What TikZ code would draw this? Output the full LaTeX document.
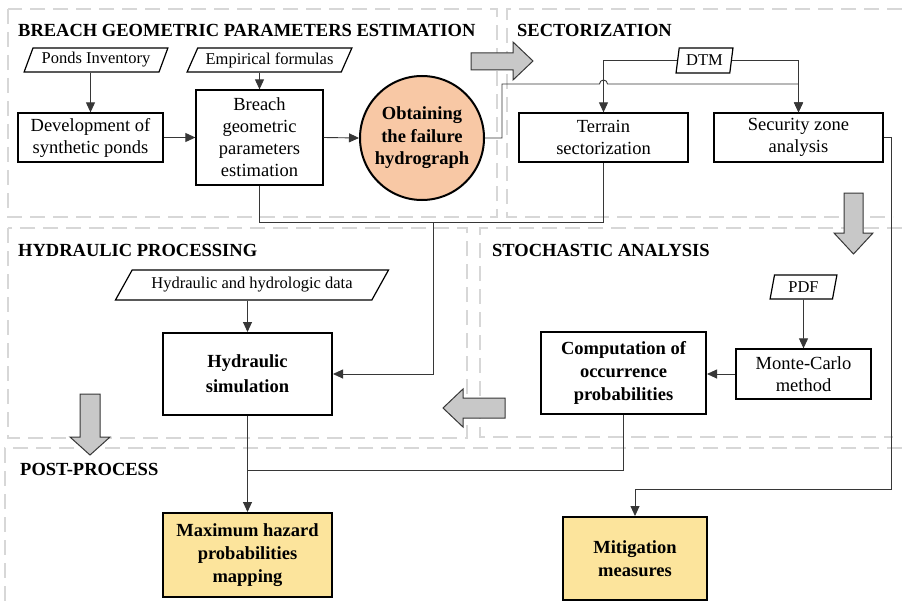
\documentclass[tikz,border=0pt]{standalone}
\usepackage{fontspec}
\setmainfont{Liberation Serif}
\usetikzlibrary{arrows.meta,shapes.geometric}
\definecolor{dashgray}{RGB}{215,215,215}
\definecolor{linegray}{RGB}{55,55,55}
\definecolor{peach}{RGB}{248,200,165}
\definecolor{gold}{RGB}{252,228,156}
\definecolor{arrgray}{RGB}{200,200,200}
\begin{document}
\begin{tikzpicture}[x=1pt,y=-1pt,
  box/.style={draw, line width=1.3pt, align=center, inner sep=0pt, font=\fontsize{18.5}{22}\selectfont},
  bbox/.style={box, line width=2pt, font=\bfseries\fontsize{18.5}{23}\selectfont},
  para/.style 2 args={trapezium, trapezium left angle=#1, trapezium right angle=#2, trapezium stretches=true, draw, line width=1.2pt, inner sep=0pt, font=\fontsize{16.5}{20}\selectfont},
  title/.style={anchor=base west, inner sep=0pt, font=\bfseries\fontsize{18.5}{22}\selectfont},
  conn/.style={draw=linegray, line width=0.9pt},
  arr/.style={conn, -{Triangle[length=10pt,width=9pt]}},
  region/.style={draw=dashgray, line width=1.3pt, dash pattern=on 15pt off 8pt},
  bigarrow/.style={draw=linegray, fill=arrgray, line width=1pt, line join=miter}]
\useasboundingbox[fill=white] (0,0) rectangle (902,607);
% regions
\draw[region] (8,9) rectangle (497,217);
\draw[region] (902,9) -- (507,9) -- (507,217) -- (893,217);
\draw[region] (8,228) rectangle (467,438);
\draw[region] (902,228) -- (480,228) -- (480,437) -- (893,437);
\draw[region] (902,448) -- (5,448) -- (5,607);
% titles
\node[title] (t1) at (18,37) {BREACH GEOMETRIC PARAMETERS ESTIMATION};
\node[title] (t2) at (517,37) {SECTORIZATION};
\node[title] (t3) at (18,256) {HYDRAULIC PROCESSING};
\node[title] (t4) at (492,256) {STOCHASTIC ANALYSIS};
\node[title] (t5) at (20,475) {POST-PROCESS};
% data nodes
\node[para={63}{117}, minimum width=144pt, minimum height=24pt] (ponds) at (96,60) {Ponds Inventory};
\node[para={58}{122}, minimum width=165pt, minimum height=24pt] (emp) at (269.5,60) {Empirical formulas};
\node[para={47}{133}, minimum width=274pt, minimum height=30pt] (hdata) at (252,285) {Hydraulic and hydrologic data};
\node[para={78}{102}, minimum width=57pt, minimum height=25pt] (dtm) at (704.5,60.5) {DTM};
\node[para={78}{102}, minimum width=67pt, minimum height=24pt] (pdf) at (803.5,287) {PDF};
% process boxes
\node[box, minimum width=145pt, minimum height=49pt] (dev) at (90.5,137.5) {Development of\\synthetic ponds};
\node[box, minimum width=127pt, minimum height=95pt] (breach) at (259.5,137.5) {Breach\\geometric\\parameters\\estimation};
\node[circle, draw, line width=2pt, fill=peach, minimum size=124pt, inner sep=0pt, align=center, font=\bfseries\fontsize{18.5}{22.5}\selectfont] (hydro) at (422,138) {Obtaining\\the failure\\hydrograph};
\node[box, minimum width=169pt, minimum height=49pt] (terrain) at (603.5,137.5) {Terrain\\sectorization};
\node[box, minimum width=169pt, minimum height=49pt] (security) at (798.5,137.5) {Security zone\\analysis};
\node[bbox, minimum width=169pt, minimum height=82pt, font=\bfseries\fontsize{18.5}{25}\selectfont] (hsim) at (247.5,374) {Hydraulic\\simulation};
\node[bbox, minimum width=165pt, minimum height=82pt] (comp) at (623.5,373) {Computation of\\occurrence\\probabilities};
\node[box, minimum width=135pt, minimum height=50pt] (monte) at (803.5,374) {Monte-Carlo\\method};
\node[bbox, fill=gold, minimum width=169pt, minimum height=84pt] (maxh) at (247.5,555) {Maximum hazard\\probabilities\\mapping};
\node[bbox, fill=gold, minimum width=144pt, minimum height=83pt] (mitig) at (635,558.5) {Mitigation\\measures};
% connectors
\coordinate (c1) at (502,84);
\coordinate (c2) at (433,222);
\coordinate (c3) at (622,470);
\coordinate (c4) at (891,489);
\draw[arr] (dev.north |- ponds.south) -- (dev.north);
\draw[arr] (breach.north |- emp.south) -- (breach.north);
\draw[arr] (dev.east) -- (breach.west);
\draw[arr] (breach.east) -- (hydro.west);
\draw[arr] (dtm.west) -| (terrain.north);
\draw[arr] (dtm.east) -| (security.north);
\draw[arr] (hydro.east) -| (c1) -- ([xshift=-4pt]terrain.north |- c1) arc[start angle=180, end angle=0, radius=4pt] -- (security.north |- c1) -- (security.north);
\draw[conn] (breach.south) -- (breach.south |- c2) -- (terrain.south |- c2) -- (terrain.south);
\draw[arr] (c2) |- (hsim.east);
\draw[arr] (hsim.north |- hdata.south) -- (hsim.north);
\draw[arr] (pdf.south) -- (monte.north);
\draw[arr] (monte.west) -- (monte.west -| comp.east);
\draw[conn] (comp.south) |- (maxh.north |- c3);
\draw[arr] (hsim.south) -- (maxh.north);
\draw[arr] (security.east) -| (c4) -| (mitig.north);
% big gray arrows
\draw[bigarrow] (471,53) -- (513,53) -- (513,42) -- (533,61) -- (513,80) -- (513,70) -- (471,70) -- cycle;
\draw[bigarrow] (844,193) -- (863,193) -- (863,233) -- (873,233) -- (853.5,254) -- (834,233) -- (844,233) -- cycle;
\draw[bigarrow] (505,398) -- (463,398) -- (463,389) -- (443,408) -- (463,427) -- (463,418) -- (505,418) -- cycle;
\draw[bigarrow] (80,394) -- (100,394) -- (100,437) -- (110,437) -- (90,455) -- (70,437) -- (80,437) -- cycle;
\end{tikzpicture}
\end{document}
